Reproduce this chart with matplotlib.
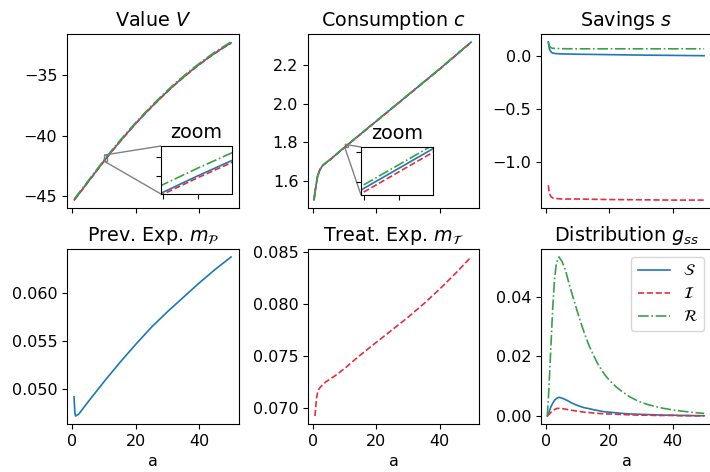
import numpy as np
import matplotlib
matplotlib.use("Agg")
import matplotlib.pyplot as plt
from mpl_toolkits.axes_grid1.inset_locator import mark_inset

plt.rcParams['font.size'] = 11.5

c_s = '#1f77b4'
c_i = '#e0303f'
c_r = '#3aa048'

# Value V
a_v = [0.6, 3, 5, 7.5, 10.5, 12.5, 15, 17.5, 20, 22.5, 25, 27.5, 30, 32.5, 35,
       37.5, 40, 42.5, 45, 47.5, 50]
v_s = [-45.3, -44.48, -43.79, -42.93, -41.9, -41.25, -40.46, -39.70, -38.96, -38.26,
       -37.58, -36.93, -36.30, -35.70, -35.14, -34.59, -34.08, -33.59, -33.13, -32.70, -32.30]
v_i = [v - 0.02 for v in v_s]
v_r = [v + 0.08 for v in v_s]

# Consumption c
a_c = [0.2, 0.7, 1.3, 2, 3, 5, 10, 20, 30, 40, 50]
c_ss = [1.50, 1.56, 1.62, 1.655, 1.68, 1.705, 1.775, 1.91, 2.045, 2.18, 2.32]
c_ii = [c - 0.0012 for c in c_ss]
c_rr = [c + 0.0012 for c in c_ss]

# Savings s
a_s = [0.6, 1.0, 1.5, 2, 3, 5, 10, 20, 30, 40, 50]
s_s = [0.13, 0.06, 0.035, 0.025, 0.02, 0.017, 0.014, 0.01, 0.006, 0.003, 0.0]
s_i = [-1.22, -1.30, -1.33, -1.34, -1.345, -1.35, -1.35, -1.355, -1.357, -1.36, -1.36]
s_r = [0.13, 0.09, 0.075, 0.07, 0.068, 0.066, 0.065, 0.065, 0.065, 0.065, 0.065]

# Prevention expenditure
a_p = [0.5, 0.8, 1.0, 2, 5, 10, 15, 20, 25, 30, 35, 40, 45, 50]
m_p = [0.0492, 0.0475, 0.0472, 0.0474, 0.0487, 0.0508, 0.0528, 0.0547, 0.0565,
       0.0581, 0.0596, 0.0611, 0.0625, 0.0638]

# Treatment expenditure
a_t = [0.5, 0.8, 1.0, 1.3, 1.6, 2.0, 2.6, 4, 7, 10, 15, 20, 25, 30, 35, 40, 45, 50]
m_t = [0.0692, 0.0702, 0.0709, 0.0714, 0.0717, 0.0719, 0.0721, 0.0725, 0.0731, 0.0738,
       0.0751, 0.0763, 0.0775, 0.0787, 0.0800, 0.0814, 0.0829, 0.0845]

# Distribution g_ss
a_g = [0.3, 0.8, 1.4, 2.0, 2.6, 3.2, 4.0, 5.0, 6.1, 7.0, 8.2, 9.5, 10.8, 12.0, 13.5, 15,
       16.1, 17.5, 18.7, 20, 22, 24, 26.5, 29.3, 32, 34.5, 37, 39.8, 42.5, 45, 47.5, 50]
g_r = [0, 0.009, 0.0225, 0.036, 0.046, 0.0515, 0.0534, 0.0518, 0.0488, 0.0452, 0.0408,
       0.0362, 0.0317, 0.0280, 0.0237, 0.0203, 0.0179, 0.0155, 0.0136, 0.0120, 0.0099,
       0.0082, 0.0064, 0.0049, 0.0039, 0.0032, 0.0026, 0.0021, 0.0017, 0.0014, 0.0011, 0.0009]
g_s = [0, 0.0012, 0.0030, 0.0043, 0.0053, 0.0059, 0.0063, 0.0060, 0.0055, 0.0050, 0.0043,
       0.0037, 0.0032, 0.0028, 0.0025, 0.0021, 0.0019, 0.0016, 0.0014, 0.0013, 0.0011,
       0.0009, 0.0007, 0.0006, 0.0005, 0.0004, 0.0003, 0.0003, 0.0002, 0.0002, 0.0001, 0.0001]
g_i = [0, 0.0005, 0.0012, 0.0018, 0.0022, 0.0025, 0.0026, 0.0025, 0.0023, 0.0021, 0.0019,
       0.0017, 0.0015, 0.0013, 0.0012, 0.0010, 0.0009, 0.0008, 0.0007, 0.0007, 0.0006,
       0.0005, 0.0004, 0.0003, 0.0003, 0.0002, 0.0002, 0.0002, 0.0001, 0.0001, 0.0001, 0.0001]

fig = plt.figure(figsize=(7.1, 4.72), dpi=100)
W, H = 710, 472


def px_axes(x0, y0, x1, y1):
    return fig.add_axes([x0 / W, 1 - y1 / H, (x1 - x0) / W, (y1 - y0) / H])


lefts = [67, 308, 541]
rights = [239, 479, 712]
top_row = [px_axes(lefts[i], 34, rights[i], 208) for i in range(3)]
bot_row = [px_axes(lefts[i], 249, rights[i], 424) for i in range(3)]

sty_s = dict(color=c_s, ls='-', lw=1.2)
sty_i = dict(color=c_i, ls='--', lw=1.2)
sty_r = dict(color=c_r, ls='-.', lw=1.2)

ax = top_row[0]
ax.plot(a_v, v_s, **sty_s)
ax.plot(a_v, v_i, **sty_i)
ax.plot(a_v, v_r, **sty_r)
ax.set_title('Value $V$', fontsize='large')
ins = px_axes(161, 146, 232, 194)
ins.plot(a_v, v_s, **sty_s)
ins.plot(a_v, v_i, **sty_i)
ins.plot(a_v, v_r, **sty_r)
ins.set_xlim(9.97, 10.99)
ins.set_ylim(-42.09, -41.59)
ins.set_xticks([10, 10.5])
ins.set_yticks([-41.9, -41.7])
ins.set_xticklabels([])
ins.set_yticklabels([])
ins.set_title('zoom', fontsize='large')
mark_inset(ax, ins, loc1=2, loc2=3, fc='none', ec='0.5')

ax = top_row[1]
ax.plot(a_c, c_ss, **sty_s)
ax.plot(a_c, c_ii, **sty_i)
ax.plot(a_c, c_rr, **sty_r)
ax.set_title('Consumption $c$', fontsize='large')
ins = px_axes(361, 147, 433, 195)
ins.plot(a_c, c_ss, **sty_s)
ins.plot(a_c, c_ii, **sty_i)
ins.plot(a_c, c_rr, **sty_r)
ins.set_xlim(9.96, 10.98)
ins.set_ylim(1.7728, 1.7888)
ins.set_xticks([10, 10.5])
ins.set_yticks([1.777, 1.787])
ins.set_xticklabels([])
ins.set_yticklabels([])
ins.set_title('zoom', fontsize='large')
mark_inset(ax, ins, loc1=2, loc2=3, fc='none', ec='0.5')

ax = top_row[2]
ax.plot(a_s, s_s, **sty_s)
ax.plot(a_s, s_i, **sty_i)
ax.plot(a_s, s_r, **sty_r)
ax.set_title('Savings $s$', fontsize='large')

ax = bot_row[0]
ax.plot(a_p, m_p, **sty_s)
ax.set_title(r'Prev. Exp. $m_{\mathcal{P}}$', fontsize='large')

ax = bot_row[1]
ax.plot(a_t, m_t, **sty_i)
ax.set_title(r'Treat. Exp. $m_{\mathcal{T}}$', fontsize='large')

ax = bot_row[2]
ax.plot(a_g, g_s, label=r'$\mathcal{S}$', **sty_s)
ax.plot(a_g, g_i, label=r'$\mathcal{I}$', **sty_i)
ax.plot(a_g, g_r, label=r'$\mathcal{R}$', **sty_r)
ax.set_title(r'Distribution $g_{ss}$', fontsize='large')
ax.legend(loc='upper right')

for ax in top_row + bot_row:
    ax.set_xlim(-1.7, 52.5)
    ax.set_xticks([0, 20, 40])
for ax in top_row:
    ax.set_xticklabels([])
for ax in bot_row:
    ax.set_xlabel('a')

fig.savefig('out.png', dpi=100)
